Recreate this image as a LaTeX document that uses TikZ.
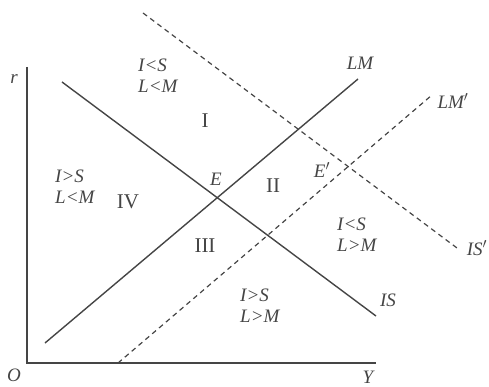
\documentclass[tikz,border=0pt]{standalone}
\usepackage{fontspec}
\setmainfont{Liberation Serif}
\definecolor{ink}{HTML}{454545}
\begin{document}
\begin{tikzpicture}[x=1pt,y=-1pt,
  curve/.style={draw=ink,line width=1.4pt},
  dcurve/.style={draw=ink,line width=1.2pt,dash pattern=on 5pt off 4pt},
  lab/.style={text=ink,font=\fontsize{19}{21}\selectfont\itshape,inner sep=0pt},
  rom/.style={text=ink,font=\fontsize{21}{21}\selectfont,inner sep=0pt},
  two/.style={lab,align=left}]
\useasboundingbox (0,0) rectangle (489,387);
% axes
\coordinate (ytop) at (27,67);
\coordinate (org) at (27,363);
\coordinate (xend) at (376,363);
\draw[curve] (ytop) -- (org) -- (xend);
\node[lab] (r) at (14,79) {r};
\node[lab] (O) at (14,375) {O};
\node[lab] (Y) at (368,377) {Y};
% curves
\coordinate (is1) at (62,82);
\coordinate (is2) at (376,316);
\coordinate (lm1) at (45,343);
\coordinate (lm2) at (358,79);
\coordinate (lmp1) at (118,363);
\coordinate (lmp2) at (432,95);
\coordinate (isp1) at (143,13);
\coordinate (isp2) at (457,248);
\draw[curve] (is1) -- (is2);
\draw[curve] (lm1) -- (lm2);
\draw[dcurve] (lmp1) -- (lmp2);
\draw[dcurve] (isp1) -- (isp2);
% curve labels
\node[lab] (LM) at (360,63) {LM};
\node[lab] (LMp) at (453,101) {LM$'$};
\node[lab] (IS) at (388,300) {IS};
\node[lab] (ISp) at (477,248) {IS$'$};
\node[lab] (E) at (216,179) {E};
\node[lab] (Ep) at (322,170) {E$'$};
% region labels
\node[two,anchor=north west] (r1) at (138,59) {I<S\\L<M};
\node[two,anchor=north west] (r4) at (55,170) {I>S\\L<M};
\node[two,anchor=north west] (r2) at (337,218) {I<S\\L>M};
\node[two,anchor=north west] (r3) at (240,289) {I>S\\L>M};
\node[rom] (n1) at (205,121) {I};
\node[rom] (n2) at (273,186) {II};
\node[rom] (n3) at (205,246) {III};
\node[rom] (n4) at (128,202) {IV};
\end{tikzpicture}
\end{document}
